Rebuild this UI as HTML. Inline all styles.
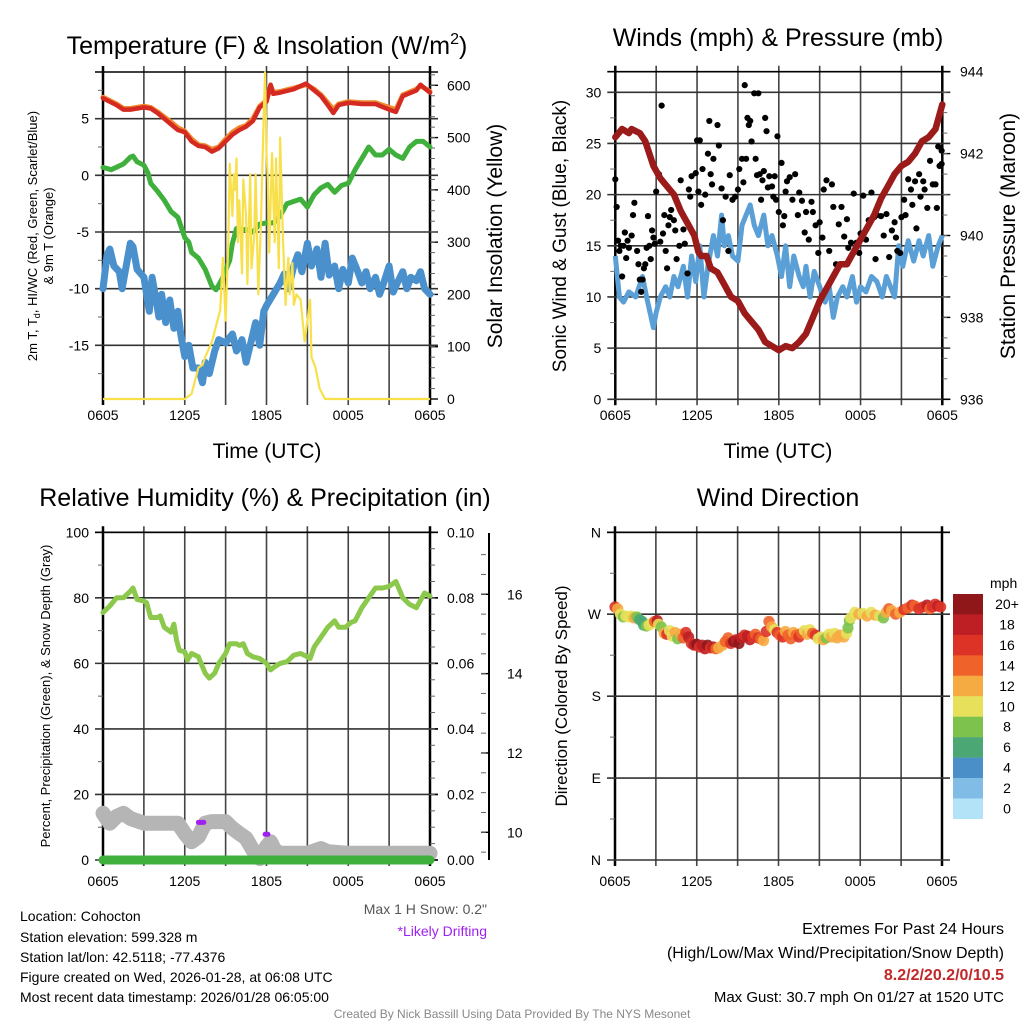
<!DOCTYPE html>
<html><head><meta charset="utf-8"><style>
html,body{margin:0;padding:0;background:#fff;}
svg{display:block;font-family:"Liberation Sans",sans-serif;}
</style></head><body>
<svg id="chart" width="1024" height="1024" viewBox="0 0 1024 1024" xmlns="http://www.w3.org/2000/svg">
<rect x="0" y="0" width="1024" height="1024" fill="#fff"/>
<text x="267" y="54" font-size="25" text-anchor="middle">Temperature (F) &amp; Insolation (W/m<tspan dy="-10" font-size="16">2</tspan><tspan dy="10">)</tspan></text>
<text x="778" y="46" font-size="25" text-anchor="middle">Winds (mph) &amp; Pressure (mb)</text>
<text x="265" y="506" font-size="25" text-anchor="middle">Relative Humidity (%) &amp; Precipitation (in)</text>
<text x="778" y="506" font-size="25" text-anchor="middle">Wind Direction</text>
<text x="267" y="458" font-size="21" text-anchor="middle">Time (UTC)</text>
<text x="778" y="458" font-size="21" text-anchor="middle">Time (UTC)</text>
<text transform="translate(37,236) rotate(-90)" font-size="13" text-anchor="middle">2m T, T<tspan dy="3" font-size="9">d</tspan><tspan dy="-3">, HI/WC (Red, Green, Scarlet/Blue)</tspan></text>
<text transform="translate(53,236) rotate(-90)" font-size="13" text-anchor="middle">&amp; 9m T (Orange)</text>
<text transform="translate(502,236) rotate(-90)" font-size="21" text-anchor="middle">Solar Insolation (Yellow)</text>
<text transform="translate(566,236) rotate(-90)" font-size="19" text-anchor="middle">Sonic Wind &amp; Gust (Blue, Black)</text>
<text transform="translate(1015,236) rotate(-90)" font-size="21" text-anchor="middle">Station Pressure (Maroon)</text>
<text transform="translate(50,696) rotate(-90)" font-size="13" text-anchor="middle">Percent, Precipitation (Green), &amp; Snow Depth (Gray)</text>
<text transform="translate(567,696) rotate(-90)" font-size="17" text-anchor="middle">Direction (Colored By Speed)</text>
<g font-size="14">
<text x="20" y="921">Location: Cohocton</text>
<text x="20" y="942">Station elevation: 599.328 m</text>
<text x="20" y="962">Station lat/lon: 42.5118; -77.4376</text>
<text x="20" y="982">Figure created on Wed, 2026-01-28, at 06:08 UTC</text>
<text x="20" y="1002">Most recent data timestamp: 2026/01/28 06:05:00</text>
</g>
<text x="487" y="914" font-size="14" fill="#555" text-anchor="end">Max 1 H Snow: 0.2"</text>
<text x="487" y="936" font-size="14" fill="#a020f0" text-anchor="end">*Likely Drifting</text>
<g text-anchor="end">
<text x="1004" y="934" font-size="16">Extremes For Past 24 Hours</text>
<text x="1004" y="958" font-size="16">(High/Low/Max Wind/Precipitation/Snow Depth)</text>
<text x="1004" y="980" font-size="16" font-weight="bold" fill="#c0282a">8.2/2/20.2/0/10.5</text>
<text x="1004" y="1002" font-size="15">Max Gust: 30.7 mph On 01/27 at 1520 UTC</text>
</g>
<text x="512" y="1018" font-size="12" fill="#888" text-anchor="middle">Created By Nick Bassill Using Data Provided By The NYS Mesonet</text>
</svg>
<script>
// ---- data ----
const timeLabels = ["0605","1205","1805","0005","0605"];
const tempH = [0,1,1.5,2,3,3.5,4,5,5.5,6,6.5,7,7.5,8,8.5,9,9.5,10,10.5,11,11.5,12,12.3,12.5,13,14,14.9,15.5,16,16.5,16.9,17.3,18,19,20,21,21.5,22,23,23.3,24];
const tempRed = [6.8,6.2,5.8,5.8,6.0,5.9,5.5,4.5,4.0,3.8,3.0,2.6,2.5,2.1,2.4,3.0,3.6,4.0,4.3,4.8,6.0,6.5,8.0,7.2,7.3,7.6,8.1,7.5,7.0,6.2,5.5,6.2,6.4,6.3,6.3,5.8,5.6,7.0,7.5,8.0,7.3];
const tempOrange = [6.9,6.3,5.9,5.9,6.1,6.0,5.6,4.7,4.2,3.9,3.2,2.7,2.6,2.3,2.5,3.2,3.8,4.2,4.4,5.0,6.1,6.6,7.9,7.3,7.4,7.7,8.0,7.6,7.1,6.4,5.8,6.3,6.5,6.4,6.4,6.0,5.8,7.1,7.6,7.9,7.4];
const dewH = [0,0.6,1.5,2,2.2,2.5,3,3.3,3.5,4,4.5,5,5.5,6,6.3,6.5,7,7.5,8,8.3,8.8,9.3,9.5,9.8,10.5,11,11.5,12,12.5,13,13.5,14,14.5,15,15.5,16,16.5,17,17.5,18,18.5,19,19.5,20,20.5,21,21.5,22,22.5,23,23.5,24];
const dewVals = [0.7,0.5,1.0,1.6,1.7,1.2,0.9,0.2,-0.7,-1.4,-2.2,-3.2,-3.7,-5.5,-5.9,-6.8,-7.3,-8.3,-9.8,-10.1,-9,-7.5,-6,-4.7,-4.8,-5.0,-4.3,-4.2,-4.2,-3.6,-2.5,-2.3,-2.1,-2.8,-1.7,-1.1,-0.8,-1.5,-0.9,-0.7,0.5,1.5,2.5,1.8,1.8,2.3,1.8,1.5,2.5,3.0,3.0,2.5];
const wcH = [0,0.3,0.5,0.8,1.2,1.4,1.7,2,2.2,2.5,3,3.2,3.4,3.6,3.9,4.1,4.3,4.6,4.9,5.2,5.5,5.7,6,6.3,6.6,7,7.3,7.5,7.8,8.2,8.5,9,9.5,9.8,10.2,10.5,10.8,11.2,11.5,11.8,12,12.5,13,13.3,13.6,14,14.3,14.6,15,15.3,15.7,16,16.3,16.6,17,17.3,17.6,18,18.3,18.7,19,19.3,19.6,20,20.3,20.6,21,21.3,21.6,22,22.3,22.6,23,23.3,23.6,24];
const wcVals = [-10,-7,-6.5,-8,-8.5,-10,-8,-6,-6.3,-8.3,-9,-10.5,-12,-9,-11,-12.5,-10.5,-13,-11,-13.5,-12,-14,-16,-15,-17,-17,-18.3,-16.5,-17.5,-15.5,-14.5,-14.8,-14,-15.5,-14.5,-16.5,-15,-13,-15,-12,-11.5,-10.5,-9.5,-8.7,-10,-8,-7,-8.5,-6,-8,-6.5,-9,-6,-8.8,-8,-10,-8.3,-9.5,-7.3,-8.5,-9.5,-8.5,-10,-9,-10.5,-9.5,-8,-10.3,-9.5,-8.5,-10,-9,-9.3,-8.5,-10,-10.5];
const solarH = [0,6.0,6.5,7,7.3,7.5,8,8.3,8.6,8.8,9.0,9.2,9.3,9.5,9.6,9.7,9.8,9.9,10.0,10.2,10.3,10.5,10.6,10.8,10.9,11.1,11.2,11.4,11.6,11.8,11.9,12.0,12.1,12.2,12.4,12.6,12.7,12.9,13.0,13.2,13.4,13.6,13.7,13.9,14.0,14.2,14.5,14.8,15.0,15.2,15.3,15.6,15.9,16.3,24];
const solarVals = [0,0,10,60,65,80,110,140,170,270,150,300,450,350,430,400,460,300,380,240,420,350,220,430,250,310,430,200,340,550,625,470,420,280,470,300,460,250,500,310,180,270,200,260,180,200,190,110,150,190,80,60,20,0,0];
const sonicH = [0,0.3,0.6,1,1.5,2,2.3,2.8,3,3.3,3.7,4,4.3,4.6,5,5.3,5.6,5.9,6.2,6.5,6.8,7.2,7.5,7.8,8,8.3,8.6,9,9.3,9.6,9.9,10.2,10.5,10.9,11.2,11.5,11.9,12.2,12.5,12.8,13.1,13.5,13.8,14,14.3,14.6,15,15.4,15.7,16,16.3,16.7,17,17.4,17.7,18,18.4,18.8,19.2,19.6,19.9,20.2,20.5,20.8,21.1,21.5,21.9,22.3,22.6,23,23.3,23.7,24];
const sonicVals = [14,10,9.5,10.5,10,12,10,7,8.5,10,11,10,12,11,13,10,14,11.5,15,10,13,16,14,18,15,16,14,13.5,17,18,19,17,16,18,15,16,14,12,15,11,14,12,11,13,10,12.5,11,9.5,11,8,10,11,10,12,9.5,11,10.5,12,11.5,10,12,11,10,15,13,15.5,13.5,15.5,14,16,13,15,16];
const presH = [0,0.5,1,1.2,1.8,2.2,2.8,3.3,3.8,4.3,4.8,5.3,5.8,6.1,6.3,6.7,7,7.5,8,8.5,9,9.5,10,10.5,11,11.5,12,12.5,13,13.5,14,14.5,15,15.5,16,16.5,17,17.5,18,18.5,19,19.5,20,20.5,21,21.5,22,22.5,23,23.5,24];
const presVals = [942.4,942.6,942.5,942.6,942.5,942.3,941.7,941.4,941.2,941.0,940.6,940.3,940.0,939.6,939.5,939.5,939.2,939.1,938.8,938.5,938.4,938.1,937.9,937.7,937.4,937.3,937.2,937.3,937.25,937.4,937.6,938.0,938.4,938.7,939.0,939.3,939.3,939.6,939.9,940.2,940.5,940.9,941.2,941.5,941.7,941.8,942.0,942.3,942.4,942.6,943.2];
const gustH = [0,0.1,0.2,0.3,0.4,0.5,0.6,0.7,0.8,0.9,1.0,1.2,1.3,1.4,1.6,1.7,1.8,1.9,2.0,2.1,2.2,2.3,2.4,2.5,2.6,2.7,2.8,2.9,3.0,3.2,3.3,3.4,3.5,3.6,3.7,3.8,3.9,4.0,4.1,4.3,4.4,4.5,4.7,4.8,5.0,5.1,5.3,5.4,5.5,5.6,5.8,5.9,6.0,6.1,6.2,6.3,6.4,6.6,6.8,6.9,7.0,7.1,7.2,7.5,7.6,7.8,7.9,8.1,8.3,8.4,8.6,8.8,9.0,9.1,9.3,9.4,9.5,9.6,9.7,9.8,9.9,10.0,10.2,10.3,10.4,10.5,10.6,10.7,10.8,10.9,11.0,11.1,11.2,11.3,11.5,11.6,11.7,11.8,11.9,12.0,12.2,12.3,12.4,12.5,12.6,12.8,13.0,13.2,13.4,13.5,13.7,13.9,14.0,14.2,14.4,14.5,14.7,14.9,15.0,15.2,15.3,15.5,15.7,15.9,16.0,16.2,16.4,16.6,16.8,17.0,17.1,17.3,17.5,17.7,17.9,18.0,18.2,18.4,18.6,18.8,19.0,19.1,19.2,19.5,19.7,19.9,20.1,20.3,20.5,20.6,20.7,20.9,21.0,21.2,21.3,21.5,21.7,21.8,22.0,22.1,22.3,22.4,22.6,22.7,22.9,23.1,23.3,23.5,23.6,23.7,23.8,23.95,23.95];
const gustVals = [21.5,18.8,15.5,14.5,15,12,15,16.3,13.8,15.5,14.8,16,18,19.2,14.5,13.2,11.7,10.5,11.7,12.8,13.2,14.8,17.9,15,13.7,16.5,15.8,15.2,20.3,22,15.4,28.7,16.2,18,14.5,12.8,17,17.8,18.5,17.5,16.5,13.7,15,21.4,16.6,15.2,12.3,20.5,19.8,21.8,16,22.1,25.3,20.3,25.3,19,22.5,20,24,27.2,22,21,23.5,26.8,24.8,20.6,17.5,19.8,14.5,21.9,19.5,19.8,20.5,22.5,23.5,21.2,30.7,23.5,27.5,26.8,27.2,25.2,29.9,23.5,21.9,29.9,22,19.5,21.4,22.3,27.5,26.2,20.7,21.8,20.8,19.8,21.8,19.5,25.7,18.3,23.1,17,17.9,20.3,21.3,21.7,19.5,22,18,20.2,19.4,16.3,18.3,15.6,19.3,18.3,17,14.3,17.3,15.8,20.5,21.4,14.5,21,18.8,13.2,17.1,18.8,15.9,17.6,14.8,15.3,20.1,15.3,14.3,16.2,19.9,15.6,17.5,20.2,17.8,13.7,18,17.9,16,18.1,13.9,16.5,17.3,15.8,14.5,14.3,17.8,19.5,18,21.5,20.5,19,21.3,16.7,22,19.8,21.3,20.5,18.7,23.3,21,21,18.7,24.7,22.8,23,24.3];
const rhH = [0,0.5,1,1.5,2,2.2,2.5,3,3.2,3.5,4,4.2,4.5,5,5.2,5.4,5.6,6,6.2,6.5,7,7.2,7.5,7.8,8.2,8.5,9,9.3,9.8,10,10.3,10.6,11,11.5,12,12.3,12.6,13,13.5,14,14.5,15,15.2,15.5,16,16.5,17,17.3,17.8,18.2,18.5,19,19.5,20,20.5,21,21.5,22,22.5,23,23.6,24];
const rhVals = [75.5,77.5,80,80,82,83,79.5,79,78.5,74,74,74.5,71,69.5,72,67,64,63.5,61,63,62,60,57,55.5,57,60,63,66,66,65.5,66,63,62,61.5,60,58,59,60,60.5,62.5,63,62,61.5,65,68,71,73,71,71,72.5,73,77,80,83,83,83.5,85,80,78,77,81.5,80.5];
const snowH = [0,0.5,1,1.5,2,3,5.5,6,6.5,7,7.5,8,9,9.5,10,10.5,11,11.5,12,12.3,12.6,13,15,16,16.5,18,24];
const snowDepth = [10.48,10.23,10.40,10.48,10.35,10.23,10.23,9.97,9.76,9.89,10.23,10.27,10.27,10.10,9.97,9.85,9.55,9.34,9.64,9.76,9.55,9.47,9.47,9.59,9.51,9.47,9.47];
const driftH = [7.0,7.4,11.9,12.1];
const driftDepth = [10.25,10.25,9.95,9.95];
const precipH = [0,24];
const precipVals = [0,0];
const dirH = [0,0.2,0.4,0.6,0.8,1.0,1.2,1.4,1.6,1.8,2.0,2.1,2.3,2.5,2.7,2.9,3.1,3.2,3.4,3.6,3.8,4.0,4.2,4.4,4.6,4.8,5.0,5.2,5.4,5.6,5.8,6.0,6.2,6.4,6.6,6.8,7.0,7.2,7.4,7.6,7.9,8.1,8.3,8.5,8.7,8.9,9.1,9.3,9.5,9.7,9.9,10.1,10.3,10.5,10.7,10.9,11.1,11.3,11.5,11.7,11.9,12.1,12.3,12.5,12.7,12.9,13.1,13.3,13.5,13.7,13.9,14.1,14.3,14.5,14.7,14.9,15.1,15.3,15.5,15.7,15.9,16.1,16.3,16.5,16.8,17.0,17.1,17.2,17.3,17.6,17.9,18.2,18.5,18.8,19.1,19.4,19.7,19.9,20.1,20.3,20.6,20.9,21.2,21.5,21.8,22.0,22.3,22.6,22.9,23.1,23.3,23.5,23.7,23.9];
const dirDeg = [278,276,270,267,268,267,268,266,267,264,262,258,257,258,260,262,263,259,256,249,248,252,246,250,243,248,244,250,245,238,236,237,234,236,232,236,233,234,232,233,236,240,244,238,240,242,238,244,247,246,242,245,248,244,243,241,251,262,256,253,250,247,245,251,247,243,250,247,245,249,252,248,253,249,247,243,245,242,244,248,245,249,244,247,245,249,255,263,266,272,270,271,268,272,269,268,266,272,276,274,270,272,275,277,280,279,276,278,280,276,278,281,279,278];
const dirSpeed = [16,12,10,8,10,10,10,12,8,6,6,6,8,10,10,14,18,10,8,12,16,10,10,12,8,12,14,16,18,16,18,20,16,18,18,20,16,18,14,12,12,14,14,16,20,18,20,18,16,18,18,16,14,16,14,12,16,14,12,10,16,14,16,12,14,14,12,14,16,14,10,12,10,14,16,10,10,12,8,10,12,10,12,12,12,10,8,8,10,10,12,10,12,10,12,10,8,12,14,12,14,12,16,14,16,14,16,16,18,14,16,16,18,16];
const speedLabels = ["20+","18","16","14","12","10","8","6","4","2","0"];
const speedColors = ["#8f1719","#bd1f25","#dd3327","#ef632a","#f6ab42","#e7e05a","#7cc24d","#4ba774","#4a8fc7","#80bce6","#b3e3f7"];

// ---- helpers ----
const NS = "http://www.w3.org/2000/svg";
const svg = document.getElementById('chart');
function mk(tag, attrs, parent){ const e=document.createElementNS(NS,tag); for(const k in attrs) e.setAttribute(k,attrs[k]); (parent||svg).appendChild(e); return e; }
function lin(d0,d1,r0,r1){ return v => r0+(v-d0)*(r1-r0)/(d1-d0); }
function pathD(xs,ys,fx,fy){ return xs.map((h,i)=>(i?'L':'M')+fx(h).toFixed(1)+','+fy(ys[i]).toFixed(1)).join(''); }

function frame(name, x0,x1,yT,yB, leftTicks, fyL, leftLab, minorL, timeY){
  const g = mk('g',{});
  
  
  const fx = lin(0,24,x0,x1);
  for(let k=0;k<=8;k++){
    const x=fx(k*3);
    const l = mk('line',{x1:x,x2:x,y1:yT-6,y2:yB+6,stroke:(k==0||k==8)?'#000':'#444','stroke-width':(k==0||k==8)?2.5:1.6},g);
    
    if(k%2==0){
      const t = mk('text',{x:x,y:timeY,'font-size':14,'text-anchor':'middle'},g);
      
      t.textContent=timeLabels[k/2];
    }
  }
  leftTicks.forEach((v,i)=>{
    const y=fyL(v);
    const l = mk('line',{x1:x0-8,x2:x1+8,y1:y,y2:y,stroke:'#333','stroke-width':1.6},g);
    
    const t = mk('text',{x:x0-14,y:y+5,'font-size':14,'text-anchor':'end'},g);
    
    t.textContent=leftLab[i];
  });
  minorL.forEach(v=>{ const y=fyL(v); const m = mk('line',{x1:x0-5,x2:x0,y1:y,y2:y,stroke:'#666','stroke-width':1},g);
     });
  const tl = mk('line',{x1:x0-8,x2:x1+8,y1:yT,y2:yT,stroke:'#000','stroke-width':1.6},g);
  
  return fx;
}
function rightAxis(name,x,yT,yB,ticks,fy,labs,minor,labX){
  const g = mk('g',{});
  
  
  ticks.forEach((v,i)=>{ const y=fy(v);
    const l = mk('line',{x1:x,x2:x+8,y1:y,y2:y,stroke:'#000','stroke-width':1.4},g);
    
    const t = mk('text',{x:labX,y:y+5,'font-size':14},g);
    
    t.textContent=labs[i]; });
  minor.forEach(v=>{ const y=fy(v); const m = mk('line',{x1:x,x2:x+5,y1:y,y2:y,stroke:'#666','stroke-width':1},g);
     });
}
function range(a,b,s){ const r=[]; for(let v=a; v<=b+1e-9; v+=s) r.push(+v.toFixed(4)); return r; }

// ---- Panel 1: temperature ----
{
  const yT=72,yB=399;
  const fyL = lin(-15,5,345.3,118.7);
  const fyR = lin(0,600,399,85.3);
  const fx = frame('temp',103,430,yT,yB,[-15,-10,-5,0,5],fyL,["-15","-10","-5","0","5"],[-17.5,-12.5,-7.5,-2.5,2.5,7.5],420);
  rightAxis('solar-axis',430,yT,yB,[0,100,200,300,400,500,600],fyR,["0","100","200","300","400","500","600"],range(20,620,20),447);
  const o = mk('path',{d:pathD(tempH,tempOrange,fx,fyL),fill:'none',stroke:'#f08a2c','stroke-width':5,'stroke-linejoin':'round','stroke-linecap':'round'});
  
  const r = mk('path',{d:pathD(tempH,tempRed,fx,fyL),fill:'none',stroke:'#d42a22','stroke-width':4.5,'stroke-linejoin':'round','stroke-linecap':'round'});
  
  const gL = mk('path',{d:pathD(dewH,dewVals,fx,fyL),fill:'none',stroke:'#3fb03c','stroke-width':5,'stroke-linejoin':'round','stroke-linecap':'round'});
  
  const b = mk('path',{d:pathD(wcH,wcVals,fx,fyL),fill:'none',stroke:'#4a90cc','stroke-width':7,'stroke-linejoin':'round','stroke-linecap':'round'});
  
  const s = mk('path',{d:pathD(solarH,solarVals,fx,fyR),fill:'none',stroke:'#f8e04c','stroke-width':2.2,'stroke-linejoin':'round'});
  
}
// ---- Panel 2: winds ----
{
  const yT=71.7,yB=399.3;
  const fyL = lin(0,30,399.3,92.3);
  const fyR = lin(936,944,399.3,71.7);
  const fx = frame('wind',615.3,942.3,yT,yB,[0,5,10,15,20,25,30],fyL,["0","5","10","15","20","25","30"],[2.5,7.5,12.5,17.5,22.5,27.5],420);
  rightAxis('pressure-axis',942.3,yT,yB,[936,938,940,942,944],fyR,["936","938","940","942","944"],range(936.5,943.5,0.5),960);
  const b = mk('path',{d:pathD(sonicH,sonicVals,fx,fyL),fill:'none',stroke:'#5a9fd6','stroke-width':5,'stroke-linejoin':'round'});
  
  gustH.forEach((h,i)=>{
    const c = mk('circle',{cx:fx(h),cy:fyL(gustVals[i]),r:3.1,fill:'#000'});
    
  });
  const p = mk('path',{d:pathD(presH,presVals,fx,fyR),fill:'none',stroke:'#9b1a1a','stroke-width':6.5,'stroke-linejoin':'round','stroke-linecap':'round'});
  
}
// ---- Panel 3: RH ----
{
  const yT=532.3,yB=860;
  const fyL = lin(0,100,860,532.3);
  const fyR = lin(0,0.1,860,532.3);
  const fyS = lin(10,16,832.3,594.3);
  const fx = frame('rh',103,430,yT,yB,[0,20,40,60,80,100],fyL,["0","20","40","60","80","100"],[10,30,50,70,90],886);
  rightAxis('precip-axis',430,yT,yB,[0,0.02,0.04,0.06,0.08,0.1],fyR,["0.00","0.02","0.04","0.06","0.08","0.10"],range(0.005,0.095,0.005),447);
  const ax = mk('line',{x1:489,x2:489,y1:533,y2:860,stroke:'#000','stroke-width':2});
  
  rightAxis('snow-depth-ticks',481,yT,yB,[10,12,14,16],fyS,["10","12","14","16"],range(9.5,17,0.5),507);
  const gr = mk('path',{d:pathD(snowH,snowDepth,fx,fyS),fill:'none',stroke:'#b5b5b5','stroke-width':15,'stroke-linejoin':'round','stroke-linecap':'round'});
  
  for(let i=0;i<driftH.length;i+=2){
    const d = mk('path',{d:pathD(driftH.slice(i,i+2),driftDepth.slice(i,i+2),fx,fyS),stroke:'#a020f0','stroke-width':5,'stroke-linecap':'round',fill:'none'});
    
  }
  const pr = mk('path',{d:pathD(precipH,precipVals,fx,fyR),fill:'none',stroke:'#3fb03c','stroke-width':9,'stroke-linecap':'round'});
  
  const rh = mk('path',{d:pathD(rhH,rhVals,fx,fyL),fill:'none',stroke:'#8cc84b','stroke-width':5,'stroke-linejoin':'round','stroke-linecap':'round'});
  
}
// ---- Panel 4: wind direction ----
{
  const yT=532.3,yB=860;
  const fy = lin(0,360,860,532.3);
  const fx = frame('dir',615,942,yT,yB,[0,90,180,270,360],fy,["N","E","S","W","N"],[45,135,225,315],886);
  dirH.forEach((h,i)=>{
    const idx = Math.min(10,Math.floor(dirSpeed[i]/2));
    const c = mk('circle',{cx:fx(h),cy:fy(dirDeg[i]),r:5.6,fill:speedColors[10-idx],'fill-opacity':0.9});
    
  });
  const lg = mk('g',{});
  
  
  const ut = mk('text',{x:990,y:588,'font-size':14},lg);
  
  ut.textContent='mph';
  speedLabels.forEach((lab,i)=>{
    const y=594+i*20.45;
    const r = mk('rect',{x:953,y:y,width:30,height:20.6,fill:speedColors[i]},lg);
    
    const t = mk('text',{x:1007,y:y+15,'font-size':14,'text-anchor':'middle'},lg);
    
    t.textContent=lab;
  });
}
</script>
</body></html>
